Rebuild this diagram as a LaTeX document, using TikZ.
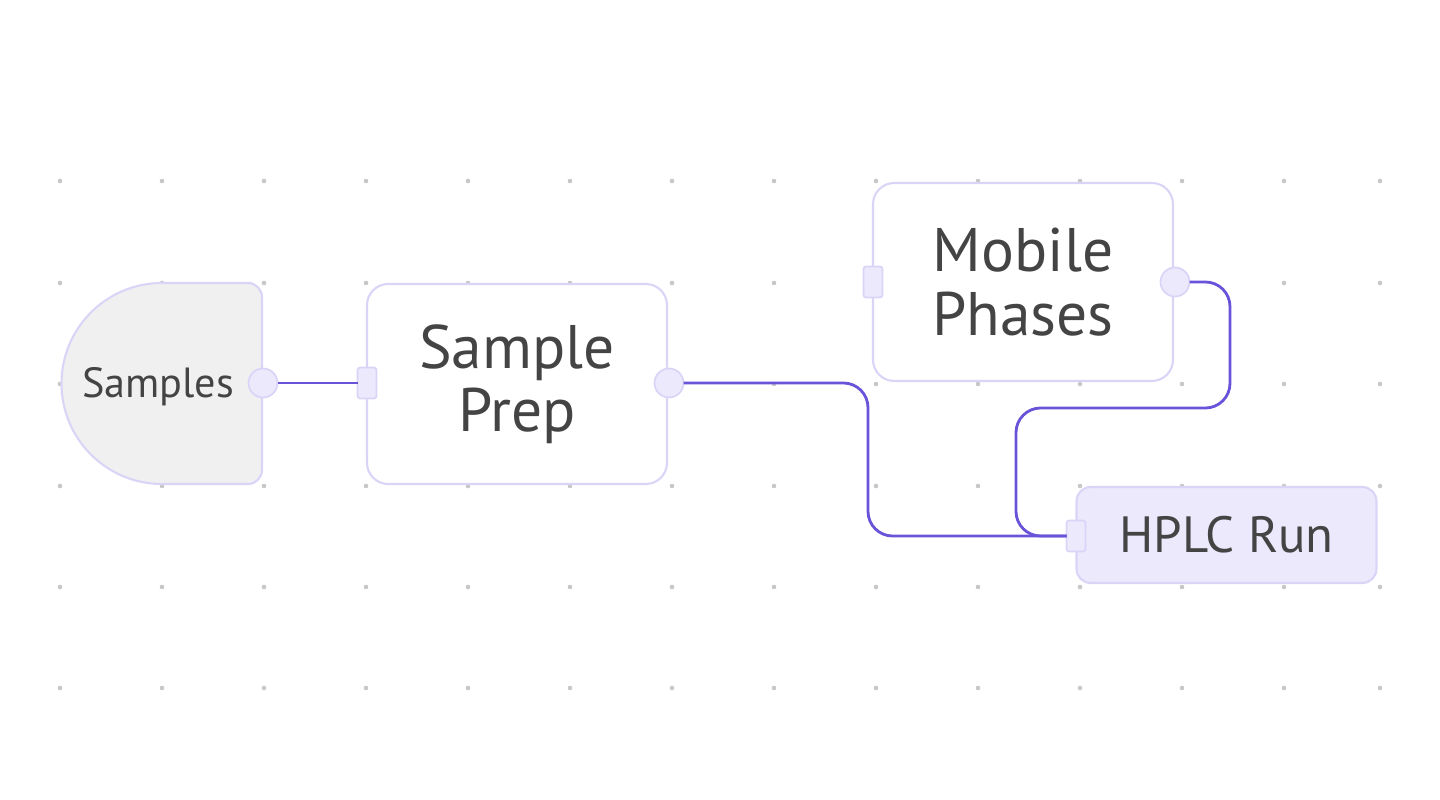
\documentclass[tikz,border=0pt]{standalone}
\usepackage{fontspec}
\setmainfont{PT Sans}
\usetikzlibrary{positioning}
\definecolor{edgeblue}{HTML}{6A52D9}
\definecolor{boxline}{HTML}{DAD5F7}
\definecolor{portfill}{HTML}{ECE9FC}
\definecolor{txt}{HTML}{444444}
\begin{document}
\begin{tikzpicture}[x=0.02cm,y=-0.02cm]
\tikzset{ >=latex, inner sep=0pt, outer sep=0pt,
  box/.style={draw=boxline, line width=1.2pt, rounded corners=12pt, fill=white, minimum width=6cm, text=txt, align=center, font=\fontsize{35}{38}\selectfont},
  sq/.style={draw=boxline, line width=1pt, fill=portfill, rounded corners=1.5pt, minimum width=0.38cm, minimum height=0.62cm},
  rd/.style={draw=boxline, line width=1pt, fill=portfill, circle, minimum size=0.58cm},
  flow/.style={draw=edgeblue, line width=1.6pt, rounded corners=14pt},
}
\useasboundingbox (0,0) rectangle (1440,800);

% grid of dots
\foreach \gx in {60,162,264,366,468,570,672,774,876,978,1080,1182,1284,1380}
  \foreach \gy in {181,283,384,486,587,688}
    \fill [black!22] (\gx,\gy) circle (1.3pt);

% Samples
\draw [boxline, line width=1.2pt, fill=black!6]
  (162,283) -- (252,283) [rounded corners=8pt] -- (262,283) -- (262,484) [sharp corners] -- (162,484)
  arc (90:270:100.5) -- cycle;
\node [text=txt, font=\fontsize{24}{26}\selectfont] (S) at (158,387) {Samples};

% boxes
\node [box, minimum height=4cm] (P) at (517,384) {Sample\\[-2pt]Prep};
\node [box, minimum height=3.96cm] (M) at (1023,282) {Mobile\\[-2pt]Phases};
\node [box, fill=portfill, minimum height=1.92cm, rounded corners=8pt, font=\fontsize{29}{30}\selectfont] (H) at (1226.5,535) {HPLC Run};

% ports
\node [rd] (Sout) at (263,383) {};
\node [sq] (Pin)  at (367,383) {};
\node [rd] (Pout) at (669,383) {};
\node [sq] (Min)  at (873,282) {};
\node [rd] (Mout) at (1175,282) {};
\node [sq] (Hin)  at (1076,536) {};

% connectors
\draw [flow] (Sout) -- (Pin);
\draw [flow] (Pout) -- (868,383) -- (868,536) -- (Hin);
\draw [flow] (Mout) -- (1230,282) -- (1230,408) -- (1016,408) -- (1016,536) -- (Hin);
\end{tikzpicture}
\end{document}
